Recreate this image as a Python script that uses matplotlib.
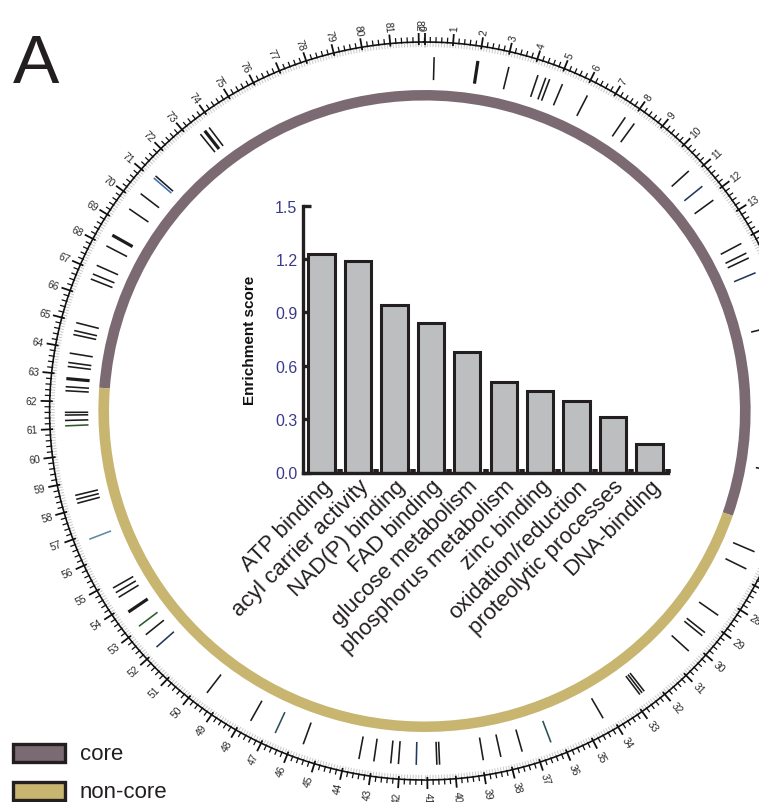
import numpy as np
import matplotlib
matplotlib.use('Agg')
import matplotlib.pyplot as plt
from matplotlib.patches import Wedge, Rectangle
from matplotlib.collections import LineCollection

plt.rcParams['font.family'] = ['Liberation Sans', 'DejaVu Sans']

# ---------------- data ----------------
categories = ['ATP binding', 'acyl carrier activity', 'NAD(P) binding', 'FAD binding',
              'glucose metabolism', 'phosphorus metabolism', 'zinc binding',
              'oxidation/reduction', 'proteolytic processes', 'DNA-binding']
enrichment = [1.23, 1.19, 0.94, 0.84, 0.68, 0.51, 0.46, 0.40, 0.31, 0.16]
y_ticks = [0.0, 0.3, 0.6, 0.9, 1.2, 1.5]

genome_length = 82.2
scale_labels = list(range(0, 83))
core_start = 62.6   # core region runs from here through 0 ...
core_end = 24.9     # ... up to here

feature_pos = [0.35, 1.95, 3.1, 4.2, 4.5, 4.65, 5.15, 6.15, 7.75, 8.15,
               10.8, 11.55, 12.2, 14.1, 14.5, 14.7, 15.3, 17.4, 19.2, 22.8,
               25.9, 26.6, 28.6, 29.4, 29.55, 30.3, 32.5, 32.6, 32.7, 34.3,
               36.4, 37.5, 38.3, 38.95, 40.55, 40.65, 41.4, 42.05, 42.33, 42.95,
               43.5, 45.6, 46.7, 47.7, 49.6, 52.1, 52.7, 53.1, 53.75, 54.4,
               54.6, 54.8, 56.8, 58.2, 58.35, 58.5, 61.1, 61.3, 61.5, 61.6,
               62.4, 62.55, 62.85, 63.3, 63.45, 63.8, 64.5, 64.65, 64.95, 66.65,
               66.85, 67.2, 68.0, 68.45, 69.6, 70.3, 71.05, 71.15, 73.4, 73.6, 73.8]
feature_kind = ['k', 'k', 'k', 'k', 'k', 'k', 'k', 'k', 'k', 'k',
                'k', 'navy', 'k', 'k', 'k', 'k', 'navy', 'k', 'k', 'k',
                'k', 'k', 'k', 'k', 'k', 'k', 'k', 'k', 'k', 'k',
                'teal', 'k', 'k', 'k', 'k', 'k', 'navy', 'k', 'k', 'k',
                'k', 'k', 'teal', 'k', 'k', 'navy', 'k', 'green', 'k', 'k',
                'k', 'k', 'steel', 'k', 'k', 'k', 'green', 'k', 'k', 'k',
                'k', 'k', 'k', 'k', 'k', 'k', 'k', 'k', 'k', 'k',
                'k', 'k', 'k', 'k', 'k', 'k', 'blue', 'k', 'k', 'k', 'k']
feature_thick = [0, 1, 0, 0, 0, 0, 0, 0, 0, 0,
                 0, 0, 0, 0, 0, 0, 0, 0, 0, 0,
                 0, 0, 0, 0, 0, 0, 0, 0, 0, 0,
                 0, 0, 0, 0, 0, 0, 0, 0, 0, 0,
                 0, 0, 0, 0, 0, 0, 0, 0, 1, 0,
                 0, 0, 0, 0, 0, 0, 0, 0, 0, 0,
                 0, 0, 1, 0, 0, 0, 0, 0, 0, 0,
                 0, 0, 0, 1, 0, 0, 0, 0, 0, 1, 0]

legend_labels = ['core', 'non-core']

# ---------------- styles ----------------
CORE_COL = '#7b6a71'
NONCORE_COL = '#c8b56f'
KIND_COL = {'k': '#1c1c1c', 'navy': '#22395c', 'blue': '#3f70b2',
            'green': '#2e5b2b', 'teal': '#2b5059', 'steel': '#6189a3'}
W, H = 759, 803
CX, CY = 424.5, 412.0      # circle centre in pixels
SX = 1.016                 # slight horizontal stretch of the original
R_SCALE = 369.0
R_RING_OUT, RING_W = 321.0, 10.5
R_FEAT = (331.0, 354.0)

fig = plt.figure(figsize=(W / 100, H / 100), dpi=100)

# main circular panel
ax = fig.add_axes([0, 0, 1, 1])
ax.set_xlim(-CX / SX, (W - CX) / SX)
ax.set_ylim(-(H - CY), CY)
ax.axis('off')


def ang(g):
    return 2 * np.pi * np.asarray(g, dtype=float) / genome_length


def xy(g, r):
    t = ang(g)
    return r * np.sin(t), r * np.cos(t)


def mpl_deg(g):
    return 90.0 - 360.0 * g / genome_length


# ring
ax.add_patch(Wedge((0, 0), R_RING_OUT, mpl_deg(core_end + genome_length), mpl_deg(core_start),
                   width=RING_W, facecolor=CORE_COL, edgecolor='none'))
ax.add_patch(Wedge((0, 0), R_RING_OUT, mpl_deg(core_start), mpl_deg(core_end),
                   width=RING_W, facecolor=NONCORE_COL, edgecolor='none'))

# scale circle
t = np.linspace(0, 2 * np.pi, 3000)
ax.plot(R_SCALE * np.sin(t), R_SCALE * np.cos(t), color='#111111', lw=1.2)

n_tenth = int(np.floor(genome_length * 10)) + 1
tenths = np.arange(n_tenth) / 10.0
segs_gray, segs_minor, segs_major = [], [], []
for i, g in enumerate(tenths):
    if i % 10 == 0:
        x0, y0 = xy(g, R_SCALE - 3)
        x1, y1 = xy(g, R_SCALE + 9)
        segs_major.append([(x0, y0), (x1, y1)])
    elif i % 2 == 0:
        x0, y0 = xy(g, R_SCALE - 1)
        x1, y1 = xy(g, R_SCALE + 5)
        segs_minor.append([(x0, y0), (x1, y1)])
    x0, y0 = xy(g, R_SCALE - 5)
    x1, y1 = xy(g, R_SCALE - 1)
    segs_gray.append([(x0, y0), (x1, y1)])
ax.add_collection(LineCollection(segs_gray, colors='#c8c8c8', linewidths=0.7))
ax.add_collection(LineCollection(segs_minor, colors='#111111', linewidths=0.9))
ax.add_collection(LineCollection(segs_major, colors='#111111', linewidths=1.3))

for n in scale_labels:
    th = ang(n)
    lx, ly = xy(n, R_SCALE + 12)
    phi = np.degrees(np.arctan2(np.cos(th), SX * np.sin(th)))
    deg = 360.0 * n / genome_length
    if deg < 180:
        rot, ha = phi, 'left'
    else:
        rot, ha = phi + 180, 'right'
    ax.text(lx, ly, str(n), rotation=rot, rotation_mode='anchor', ha=ha, va='center',
            fontsize=7.4, color='#2a2a2a')

# feature marks
for g, k, tk in zip(feature_pos, feature_kind, feature_thick):
    x0, y0 = xy(g, R_FEAT[0])
    x1, y1 = xy(g, R_FEAT[1])
    ax.plot([x0, x1], [y0, y1], color=KIND_COL[k], lw=2.3 if tk else 1.15,
            solid_capstyle='butt')

# pixel overlay for panel letter and legend
pax = fig.add_axes([0, 0, 1, 1], facecolor='none')
pax.set_xlim(0, W)
pax.set_ylim(H, 0)
pax.axis('off')
pax.text(13, 83, 'A', fontsize=50, va='baseline', ha='left', color='#231f20')
for i, (lab, col) in enumerate(zip(legend_labels, [CORE_COL, NONCORE_COL])):
    top = 745 + 38 * i
    pax.add_patch(Rectangle((13, top), 52, 18, facecolor=col, edgecolor='#231f20', lw=2.4))
    pax.text(80, top + 15, lab, fontsize=16, va='baseline', ha='left', color='#231f20')

# inset bar chart
bax = fig.add_axes([303 / W, 1 - 473.5 / H, 365 / W, 266.8 / H])
bax.patch.set_alpha(0)
x = np.arange(len(categories))
bax.bar(x, enrichment, width=0.72, color='#bcbec0', edgecolor='#231f20', linewidth=2.2, zorder=2)
bax.set_xlim(-0.51, len(categories) - 0.49)
bax.set_ylim(0, 1.5)
for s in ['top', 'right']:
    bax.spines[s].set_visible(False)
for s in ['left', 'bottom']:
    bax.spines[s].set_linewidth(2.4)
    bax.spines[s].set_color('#231f20')
    bax.spines[s].set_zorder(3)
bax.set_yticks(y_ticks)
bax.set_yticklabels([f'{v:.1f}' for v in y_ticks], fontsize=11.5, color='#3b3a8d')
bax.tick_params(axis='y', direction='in', length=6, width=2.4, color='#231f20', pad=4)
bax.set_xticks(x)
bax.set_xticklabels(categories, rotation=45, ha='right', va='top', rotation_mode='anchor',
                    fontsize=16, color='#231f20')
bax.tick_params(axis='x', which='major', length=0, pad=2)
bax.set_xticks(np.arange(0.5, len(categories), 1.0), minor=True)
bax.tick_params(axis='x', which='minor', direction='in', length=3, width=4, color='#231f20')
bax.set_ylabel('Enrichment score', fontsize=11, fontweight='bold', color='#111111')
bax.yaxis.set_label_coords(-0.126, 0.5)

fig.savefig('out.png', dpi=100)
